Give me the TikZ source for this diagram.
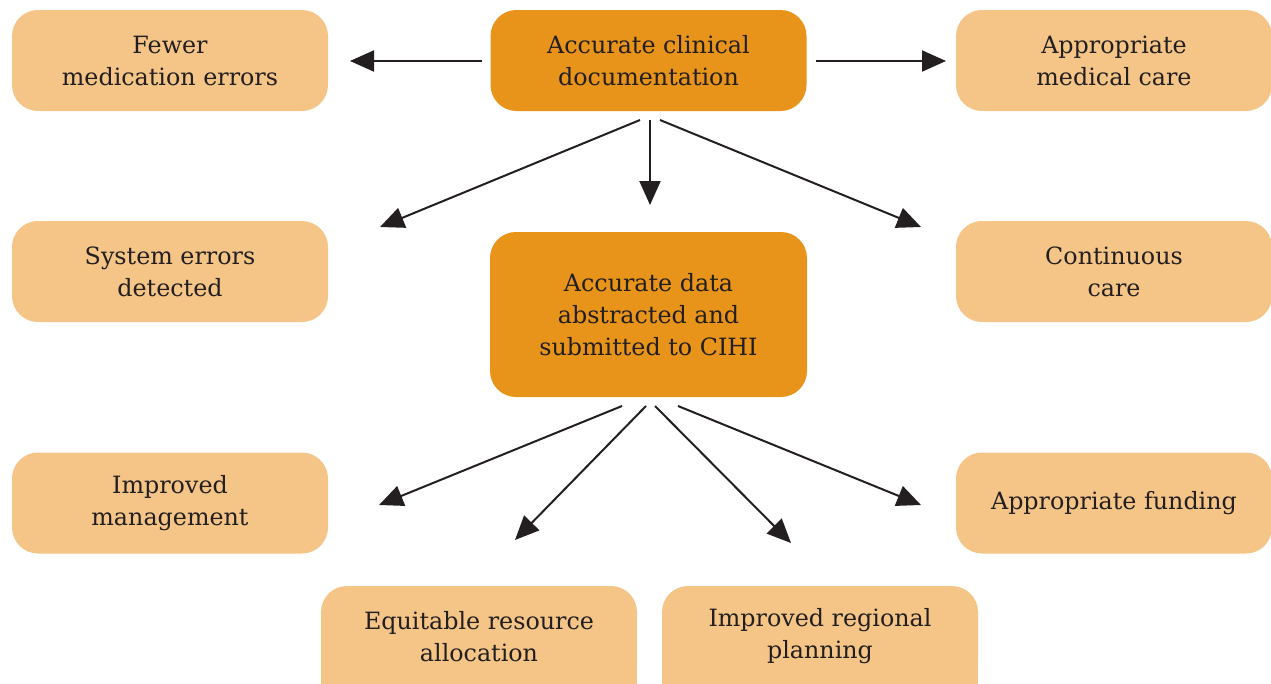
\documentclass[tikz,border=0pt]{standalone}
\usepackage{fontspec}
\setmainfont{DejaVu Serif}
\usetikzlibrary{arrows.meta}
\definecolor{darkbox}{HTML}{E8941A}
\definecolor{lightbox}{HTML}{F4C587}
\definecolor{ink}{HTML}{231F20}
\tikzset{
  box/.style={rectangle, rounded corners=26pt, minimum width=316pt, minimum height=101pt,
    align=center, text=ink, font=\fontsize{23.8}{32}\selectfont, inner sep=0pt},
  lightb/.style={box, fill=lightbox},
  darkb/.style={box, fill=darkbox},
  arr/.style={draw=ink, line width=2pt, -{Triangle[length=24pt,width=21pt]}}
}
\begin{document}
\begin{tikzpicture}[x=1pt,y=-1pt]
\useasboundingbox (0,0) rectangle (1271,683);
\clip (0,0) rectangle (1271,683);
% nodes
\node[darkb] (acd) at (648.5,60.5) {Accurate clinical\\documentation};
\node[darkb, minimum height=165pt, minimum width=317pt] (adc) at (648.5,314.5) {Accurate data\\abstracted and\\submitted to CIHI};
\node[lightb] (fme) at (170,60.5) {Fewer\\medication errors};
\node[lightb] (amc) at (1114,60.5) {Appropriate\\medical care};
\node[lightb] (sed) at (170,271.5) {System errors\\detected};
\node[lightb] (cc) at (1114,271.5) {Continuous\\care};
\node[lightb] (im) at (170,503) {Improved\\management};
\node[lightb] (af) at (1114,503) {Appropriate funding};
\fill[lightbox] (321,640) rectangle (637,700);
\fill[lightbox] (662,640) rectangle (978,700);
\node[lightb] (era) at (479,636.5) {Equitable resource\\allocation};
\node[lightb] (irp) at (820,636.5) {Improved regional\\planning};
% arrow coordinates
\coordinate (a1s) at (482,61); \coordinate (a1e) at (350,61);
\coordinate (a2s) at (816,61); \coordinate (a2e) at (946,61);
\coordinate (a3s) at (640,120); \coordinate (a3e) at (380,227);
\coordinate (a4s) at (650,120); \coordinate (a4e) at (650,205);
\coordinate (a5s) at (660,120); \coordinate (a5e) at (921,227);
\coordinate (b1s) at (622,406); \coordinate (b1e) at (379,505);
\coordinate (b2s) at (646,406); \coordinate (b2e) at (515,540);
\coordinate (b3s) at (655,406); \coordinate (b3e) at (791,543);
\coordinate (b4s) at (678,406); \coordinate (b4e) at (921,505);
\draw[arr] (a1s) -- (a1e);
\draw[arr] (a2s) -- (a2e);
\draw[arr] (a3s) -- (a3e);
\draw[arr] (a4s) -- (a4e);
\draw[arr] (a5s) -- (a5e);
\draw[arr] (b1s) -- (b1e);
\draw[arr] (b2s) -- (b2e);
\draw[arr] (b3s) -- (b3e);
\draw[arr] (b4s) -- (b4e);
\end{tikzpicture}
\end{document}
